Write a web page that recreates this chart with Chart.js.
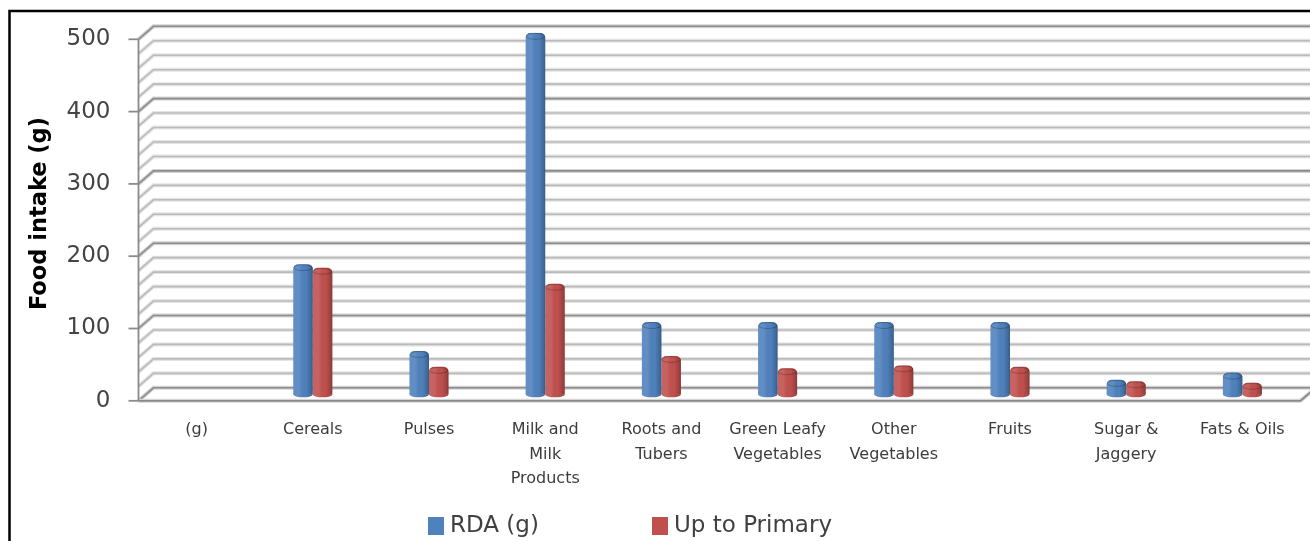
<!DOCTYPE html>
<html>
<head>
<meta charset="utf-8">
<script src="https://cdn.jsdelivr.net/npm/chart.js@4.4.1/dist/chart.umd.min.js"></script>
<style>
  html, body { margin: 0; padding: 0; background: #ffffff; }
  #wrap { width: 1310px; height: 541px; }
</style>
</head>
<body>
<div id="wrap"><canvas id="chart" width="1310" height="541"></canvas></div>
<script>
// Food groups on the category axis (multi-line labels as arrays)
const categories = [
  '(g)',
  'Cereals',
  'Pulses',
  ['Milk and', 'Milk', 'Products'],
  ['Roots and', 'Tubers'],
  ['Green Leafy', 'Vegetables'],
  ['Other', 'Vegetables'],
  'Fruits',
  ['Sugar &', 'Jaggery'],
  'Fats & Oils'
];

// Daily intake in grams
const rdaValues         = [null, 180, 60, 500, 100, 100, 100, 100, 20, 30];
const upToPrimaryValues = [null, 175, 38, 153, 53, 36, 40, 38, 18, 16];

const seriesNames  = ['RDA (g)', 'Up to Primary'];
const seriesColors = ['#4F81BD', '#C0504D'];

const valueMin = 0;
const valueMax = 500;
const majorStep = 100;
const minorStep = 20;

// half of the depth offset of the 3D box (front plane = mid + this, back = mid - this)
const HALF_DX = 7.5;
const HALF_DY = 6.5;

function strokePath(ctx, pts) {
  ctx.beginPath();
  ctx.moveTo(pts[0][0], pts[0][1]);
  for (let i = 1; i < pts.length; i++) ctx.lineTo(pts[i][0], pts[i][1]);
  ctx.stroke();
}

// White page with the black outer frame
const framePlugin = {
  id: 'frame',
  beforeDraw(chart) {
    const ctx = chart.ctx;
    ctx.save();
    ctx.fillStyle = '#ffffff';
    ctx.fillRect(0, 0, chart.width, chart.height);
    ctx.strokeStyle = '#000000';
    ctx.lineWidth = 2.5;
    ctx.beginPath();
    ctx.moveTo(9.5, chart.height + 2);
    ctx.lineTo(9.5, 11);
    ctx.lineTo(chart.width + 2, 11);
    ctx.stroke();
    ctx.restore();
  }
};

// Back wall, side wall and floor of the 3D plot box
const wallPlugin = {
  id: 'wall3d',
  beforeDatasetsDraw(chart) {
    const ctx = chart.ctx;
    const ys = chart.scales.y;
    const area = chart.chartArea;
    const L = area.left;
    const R = area.right;
    const xb = L + 2 * HALF_DX;
    ctx.save();
    ctx.lineCap = 'butt';
    for (let v = valueMin; v <= valueMax; v += minorStep) {
      const ym = ys.getPixelForValue(v);
      const yb = ym - HALF_DY;
      const yf = ym + HALF_DY;
      const major = v % majorStep === 0;
      const pts = [[L, yf], [xb, yb], [chart.width + 2, yb]];
      ctx.strokeStyle = major ? '#d2d2d2' : '#e4e4e4';
      ctx.lineWidth = 4;
      strokePath(ctx, pts);
      ctx.strokeStyle = major ? '#8c8c8c' : '#bababa';
      ctx.lineWidth = 1.6;
      strokePath(ctx, pts);
    }
    const yf0 = ys.getPixelForValue(valueMin) + HALF_DY;
    const yb0 = ys.getPixelForValue(valueMin) - HALF_DY;
    const yfTop = ys.getPixelForValue(valueMax) + HALF_DY;
    // floor front edge and right edge
    ctx.strokeStyle = '#d6d6d6';
    ctx.lineWidth = 4;
    strokePath(ctx, [[L, yf0], [R, yf0], [R + 2 * HALF_DX, yb0]]);
    ctx.strokeStyle = '#8a8a8a';
    ctx.lineWidth = 1.8;
    strokePath(ctx, [[L, yf0], [R, yf0], [R + 2 * HALF_DX, yb0]]);
    // value axis line and tick marks
    strokePath(ctx, [[L, yfTop], [L, yf0]]);
    for (let v = valueMin; v <= valueMax; v += majorStep) {
      const yf = ys.getPixelForValue(v) + HALF_DY;
      strokePath(ctx, [[L - 10, yf], [L, yf]]);
    }
    ctx.restore();
  }
};

// Cylinder shading on the bars
const cylinderPlugin = {
  id: 'cylinders',
  afterDatasetsDraw(chart) {
    const ctx = chart.ctx;
    chart.data.datasets.forEach((ds, i) => {
      const meta = chart.getDatasetMeta(i);
      meta.data.forEach((bar, j) => {
        if (ds.data[j] === null || ds.data[j] === undefined) return;
        const p = bar.getProps(['x', 'y', 'base', 'width'], true);
        const w = p.width;
        const l = p.x - w / 2;
        const r = p.x + w / 2;
        const ry = 3;
        ctx.save();
        // bottom rim below the base
        ctx.fillStyle = ds.backgroundColor;
        ctx.beginPath();
        ctx.ellipse(p.x, p.base, w / 2, ry, 0, 0, Math.PI);
        ctx.lineTo(l, p.base - 1);
        ctx.closePath();
        ctx.fill();
        // round shading across the body
        ctx.beginPath();
        ctx.moveTo(l, p.y + 4);
        ctx.lineTo(l, p.base);
        ctx.ellipse(p.x, p.base, w / 2, ry, 0, Math.PI, 0, true);
        ctx.lineTo(r, p.y + 4);
        ctx.ellipse(p.x, p.y + 4, w / 2, 4, 0, 0, Math.PI, true);
        ctx.closePath();
        const g = ctx.createLinearGradient(l, 0, r, 0);
        g.addColorStop(0, 'rgba(255,255,255,0.10)');
        g.addColorStop(0.3, 'rgba(255,255,255,0.10)');
        g.addColorStop(0.65, 'rgba(0,0,0,0.0)');
        g.addColorStop(0.9, 'rgba(0,0,0,0.18)');
        g.addColorStop(1, 'rgba(0,0,0,0.30)');
        ctx.fillStyle = g;
        ctx.fill();
        // top cap rim
        ctx.strokeStyle = 'rgba(0,0,0,0.22)';
        ctx.lineWidth = 1;
        ctx.beginPath();
        ctx.ellipse(p.x, p.y + 3.5, w / 2 - 0.5, 3, 0, 0, Math.PI * 2);
        ctx.stroke();
        ctx.restore();
      });
    });
  }
};

// Legend row under the category labels
const legendPlugin = {
  id: 'legendRow',
  afterDraw(chart) {
    const ctx = chart.ctx;
    const starts = [428, 652];
    const yMid = 526;
    ctx.save();
    ctx.font = '23px "DejaVu Sans"';
    ctx.textBaseline = 'middle';
    ctx.textAlign = 'left';
    chart.data.datasets.forEach((ds, i) => {
      const x = starts[i];
      ctx.fillStyle = ds.backgroundColor;
      ctx.fillRect(x, yMid - 9, 16, 18);
      ctx.fillStyle = '#404040';
      ctx.fillText(ds.label, x + 22, yMid);
    });
    ctx.restore();
  }
};

new Chart(document.getElementById('chart'), {
  type: 'bar',
  data: {
    labels: categories,
    datasets: [
      { label: seriesNames[0], data: rdaValues, backgroundColor: seriesColors[0], borderRadius: 5 },
      { label: seriesNames[1], data: upToPrimaryValues, backgroundColor: seriesColors[1], borderRadius: 5 }
    ]
  },
  options: {
    responsive: false,
    animation: false,
    layout: { padding: { left: 0, top: 32.8, right: 9.5, bottom: 0 } },
    datasets: { bar: { categoryPercentage: 0.336, barPercentage: 1 } },
    plugins: { legend: { display: false }, tooltip: { enabled: false } },
    scales: {
      x: {
        grid: { display: false, drawTicks: false },
        border: { display: false },
        ticks: {
          font: { family: 'DejaVu Sans', size: 16, lineHeight: 1.55 },
          color: '#3c3c3c',
          padding: 23,
          maxRotation: 0,
          minRotation: 0,
          autoSkip: false
        },
        afterFit(s) { s.height = 146.7; }
      },
      y: {
        min: valueMin,
        max: valueMax,
        grid: { display: false, drawTicks: false },
        border: { display: false },
        ticks: {
          stepSize: majorStep,
          labelOffset: HALF_DY,
          padding: 28,
          font: { family: 'DejaVu Sans', size: 23 },
          color: '#444444'
        },
        title: {
          display: true,
          text: 'Food intake (g)',
          font: { family: 'DejaVu Sans', weight: 'bold', size: 22.5 },
          color: '#000000',
          padding: { top: 26.5, bottom: 0 }
        },
        afterFit(s) {
          s.width = 138.5;
          s.paddingTop = 0;
          s.paddingBottom = 0;
        }
      }
    }
  },
  plugins: [framePlugin, wallPlugin, cylinderPlugin, legendPlugin]
});
</script>
</body>
</html>
